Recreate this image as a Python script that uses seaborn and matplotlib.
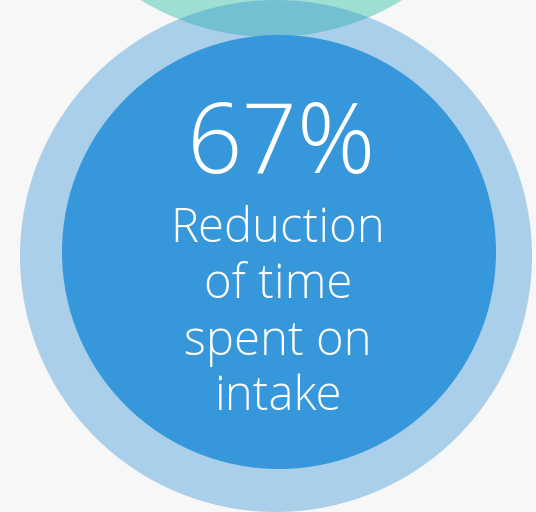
import matplotlib
matplotlib.use("Agg")
import matplotlib.pyplot as plt
import seaborn as sns
from matplotlib.patches import Circle

# headline figure and caption
metric_value = [67]
metric_unit = ["%"]
caption_lines = ["Reduction", "of time", "spent on", "intake"]

BG = "#f7f7f7"
TEAL = "#9fdfd3"
RING = "#2a8fd5"
CORE = "#3797db"


def main():
    sns.set_theme(style="white", rc={"figure.facecolor": BG, "axes.facecolor": BG})
    plt.rcParams["font.family"] = ["Open Sans", "DejaVu Sans"]

    fig = plt.figure(figsize=(5.36, 5.12), dpi=100)
    ax = fig.add_axes([0, 0, 1, 1])
    ax.set_xlim(0, 536)
    ax.set_ylim(512, 0)
    ax.set_aspect("equal")
    ax.axis("off")

    # teal circle peeking in at the top, light ring, solid core
    ax.add_patch(Circle((271.5, -213), 250, color=TEAL, lw=0, zorder=1))
    ax.add_patch(Circle((276, 256), 256, color=RING, alpha=0.375, lw=0, zorder=2))
    ax.add_patch(Circle((279, 252), 217, color=CORE, lw=0, zorder=3))

    headline = f"{metric_value[0]}{metric_unit[0]}"
    ax.text(281, 173, headline, color="white", fontsize=70, fontweight="light",
            ha="center", va="baseline", zorder=4)

    baselines = [242, 298, 355, 410]
    for line, y in zip(caption_lines, baselines):
        ax.text(278, y, line, color="white", fontsize=34, fontweight="light",
                ha="center", va="baseline", zorder=4)

    plt.savefig("out.png", dpi=100, facecolor=BG)
    plt.close()


if __name__ == "__main__":
    main()
